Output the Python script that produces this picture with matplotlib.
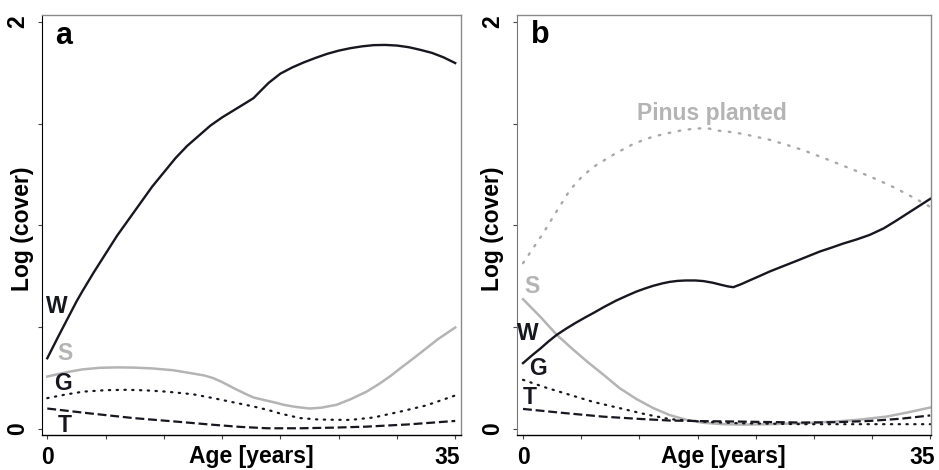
import numpy as np
import matplotlib
matplotlib.use("Agg")
import matplotlib.pyplot as plt
import matplotlib.transforms as mtransforms

plt.rcParams['font.family'] = ['Liberation Sans', 'DejaVu Sans']
plt.rcParams['font.weight'] = 'bold'

# ---- panel a ----
a_w_age = [0, 1, 2, 2.5, 3, 4, 5, 6, 7, 8, 9, 10, 11, 12, 13, 14, 15, 16, 17, 17.7, 18.3, 19, 20, 21, 22, 23, 24, 25, 26, 27, 28, 29, 30, 31, 32, 33, 34, 35]
a_w_val = [0.347, 0.46, 0.57, 0.625, 0.675, 0.77, 0.86, 0.95, 1.03, 1.11, 1.19, 1.26, 1.33, 1.39, 1.44, 1.49, 1.53, 1.565, 1.60, 1.625, 1.66, 1.70, 1.745, 1.775, 1.80, 1.822, 1.842, 1.858, 1.87, 1.879, 1.885, 1.886, 1.883, 1.875, 1.862, 1.847, 1.825, 1.797]

a_s_age = [0, 1, 2, 3, 4.5, 6, 7.4, 9, 10.8, 12.5, 13.5, 14.25, 15, 16, 17, 17.7, 18.5, 19.5, 20.3, 21.3, 22.5, 23.5, 24.8, 26, 27.4, 28.5, 29.5, 30.3, 31.5, 32.5, 33.5, 35]
a_s_val = [0.257, 0.270, 0.282, 0.292, 0.300, 0.302, 0.301, 0.297, 0.288, 0.272, 0.262, 0.249, 0.230, 0.200, 0.172, 0.154, 0.143, 0.130, 0.118, 0.108, 0.100, 0.104, 0.118, 0.145, 0.183, 0.222, 0.262, 0.298, 0.350, 0.395, 0.440, 0.498]

a_g_age = [0, 1.5, 3.1, 5, 6.8, 8.5, 10.2, 12.5, 14.25, 16, 17.7, 19, 20, 21.7, 23, 24, 26, 28, 30.3, 32.5, 35]
a_g_val = [0.151, 0.168, 0.183, 0.190, 0.192, 0.189, 0.183, 0.170, 0.151, 0.130, 0.110, 0.092, 0.075, 0.053, 0.047, 0.045, 0.044, 0.056, 0.085, 0.115, 0.164]

a_t_age = [0, 3.5, 7.4, 11, 14.25, 16.5, 18.9, 21.7, 24.5, 27.4, 31, 35]
a_t_val = [0.100, 0.077, 0.053, 0.036, 0.020, 0.010, 0.003, 0.003, 0.006, 0.011, 0.022, 0.039]

# ---- panel b ----
b_p_age = [0, 0.9, 1.74, 2.9, 4.04, 5, 6, 7.5, 8.5, 9.5, 10.5, 11.2, 12.5, 13.5, 14.6, 15.8, 16.6, 17.5, 19, 20, 21.2, 22.5, 23.5, 24.5, 25.5, 26.5, 27.5, 28.7, 29.8, 31, 32, 33.5, 34.7, 35]
b_p_val = [0.814, 0.89, 0.962, 1.07, 1.174, 1.235, 1.285, 1.338, 1.37, 1.40, 1.422, 1.436, 1.453, 1.465, 1.474, 1.478, 1.466, 1.461, 1.448, 1.435, 1.420, 1.398, 1.380, 1.360, 1.338, 1.316, 1.293, 1.266, 1.240, 1.210, 1.183, 1.138, 1.100, 1.090]

b_w_age = [0, 0.75, 1.5, 2.2, 2.9, 3.7, 4.5, 5.3, 6.04, 7, 8, 9, 9.77, 10.5, 11.2, 12, 12.6, 13.3, 14, 14.8, 15.5, 16.3, 17, 17.6, 18.07, 18.8, 19.5, 20.3, 21.2, 22.3, 23.5, 24.5, 25.5, 26.5, 27.5, 28.7, 29.8, 31, 32, 33.5, 35]
b_w_val = [0.323, 0.36, 0.395, 0.43, 0.462, 0.492, 0.520, 0.546, 0.569, 0.600, 0.630, 0.656, 0.675, 0.690, 0.703, 0.715, 0.722, 0.727, 0.729, 0.729, 0.726, 0.718, 0.708, 0.700, 0.696, 0.712, 0.730, 0.750, 0.773, 0.798, 0.825, 0.848, 0.871, 0.890, 0.910, 0.931, 0.953, 0.985, 1.020, 1.075, 1.130]

b_s_age = [0, 1.5, 2.9, 4.2, 5.5, 7, 8.3, 9.8, 11.2, 12.6, 14.06, 15.5, 17.2, 19, 21.2, 24, 26.9, 29, 31.2, 33, 35]
b_s_val = [0.637, 0.550, 0.462, 0.395, 0.331, 0.262, 0.200, 0.145, 0.102, 0.068, 0.044, 0.030, 0.023, 0.021, 0.023, 0.028, 0.036, 0.046, 0.060, 0.080, 0.105]

b_g_age = [0, 2, 4.04, 6, 8.3, 10.5, 12.6, 15.5, 18.4, 24.1, 29.8, 35]
b_g_val = [0.241, 0.202, 0.167, 0.133, 0.102, 0.072, 0.048, 0.035, 0.028, 0.023, 0.023, 0.023]

b_t_age = [0, 3.5, 6.9, 10, 12.6, 15.5, 18.4, 24.1, 27, 29.8, 32.5, 35]
b_t_val = [0.098, 0.078, 0.060, 0.049, 0.041, 0.038, 0.036, 0.031, 0.033, 0.039, 0.050, 0.066]

x_ticks = [0, 5, 10, 15, 20, 25, 30, 35]
x_ticklabels = ['0', '', '', '', '', '', '', '35']
y_ticks = [0, 0.5, 1, 1.5, 2]
y_ticklabels = ['0', '', '', '', '2']

dark = '#17171f'
grey = '#b4b4b4'
fs = 16.5

fig = plt.figure(figsize=(9.39, 4.70), dpi=100)
ax_a = fig.add_axes([0.0444, 0.0745, 0.4466, 0.894])
ax_b = fig.add_axes([0.5503, 0.0745, 0.441, 0.894])


def style_axes(ax, xlim, ylab_x):
    ax.set_xlim(*xlim)
    ax.set_ylim(-0.03, 2.034)
    ax.set_xticks(x_ticks)
    ax.set_xticklabels(x_ticklabels)
    ax.set_yticks(y_ticks)
    ax.set_yticklabels(y_ticklabels, rotation=90, va='center')
    ax.tick_params(axis='both', length=3, width=0.8, labelsize=fs, color='#444444')
    ax.tick_params(axis='x', pad=5)
    ax.tick_params(axis='y', pad=6)
    for s in ['top', 'right']:
        ax.spines[s].set_color('#8a8a8a')
        ax.spines[s].set_linewidth(1.0)
    ax.spines['bottom'].set_color('black')
    ax.spines['bottom'].set_linewidth(1.0)
    ax.set_xlabel('Age [years]', fontsize=fs, fontweight='bold')
    ax.xaxis.set_label_coords(0.5, -0.024)
    ax.set_ylabel('Log (cover)', fontsize=fs, fontweight='bold')
    ax.yaxis.set_label_coords(ylab_x, 0.49)
    # shift the "35" label slightly left as in the original
    lab = ax.get_xticklabels()[-1]
    lab.set_transform(lab.get_transform() + mtransforms.ScaledTranslation(-8 / 100, 0, fig.dpi_scale_trans))


# panel a
ax_a.plot(a_w_age, a_w_val, color=dark, lw=1.7, solid_joinstyle='round')
ax_a.plot(a_s_age, a_s_val, color=grey, lw=1.8, solid_joinstyle='round')
ax_a.plot(a_g_age, a_g_val, color=dark, lw=1.6, linestyle=(0, (0.6, 2.9)), dash_capstyle='round')
ax_a.plot(a_t_age, a_t_val, color=dark, lw=1.6, linestyle=(0, (4, 1.7)))
style_axes(ax_a, (-0.48, 35.5), -0.018)
ax_a.spines['left'].set_color('black')
ax_a.text(1.37, 1.928, 'a', fontsize=22, fontweight='bold', ha='center', va='center')
ax_a.text(0.8, 0.601, 'W', fontsize=fs, fontweight='bold', color=dark, ha='center', va='center')
ax_a.text(1.52, 0.372, 'S', fontsize=fs, fontweight='bold', color=grey, ha='center', va='center')
ax_a.text(1.37, 0.225, 'G', fontsize=fs, fontweight='bold', color=dark, ha='center', va='center')
ax_a.text(1.52, 0.016, 'T', fontsize=fs, fontweight='bold', color=dark, ha='center', va='center')

# panel b
ax_b.plot(b_p_age, b_p_val, color='#a8a8a8', lw=1.7, linestyle=(0, (0.7, 3.6)), dash_capstyle='round')
ax_b.plot(b_s_age, b_s_val, color=grey, lw=1.8, solid_joinstyle='round')
ax_b.plot(b_w_age, b_w_val, color=dark, lw=1.7, solid_joinstyle='round')
ax_b.plot(b_g_age, b_g_val, color=dark, lw=1.6, linestyle=(0, (0.6, 2.9)), dash_capstyle='round')
ax_b.plot(b_t_age, b_t_val, color=dark, lw=1.6, linestyle=(0, (4, 1.7)))
style_axes(ax_b, (-0.54, 35.05), -0.031)
ax_b.spines['left'].set_color('#777777')
ax_b.text(1.46, 1.936, 'b', fontsize=22, fontweight='bold', ha='center', va='center')
ax_b.text(16.2, 1.551, 'Pinus planted', fontsize=fs, fontweight='bold', color=grey, ha='center', va='center')
ax_b.text(0.75, 0.70, 'S', fontsize=fs, fontweight='bold', color=grey, ha='center', va='center')
ax_b.text(0.45, 0.47, 'W', fontsize=fs, fontweight='bold', color=dark, ha='center', va='center')
ax_b.text(1.31, 0.298, 'G', fontsize=fs, fontweight='bold', color=dark, ha='center', va='center')
ax_b.text(0.6, 0.156, 'T', fontsize=fs, fontweight='bold', color=dark, ha='center', va='center')

fig.savefig('out.png', dpi=100)
